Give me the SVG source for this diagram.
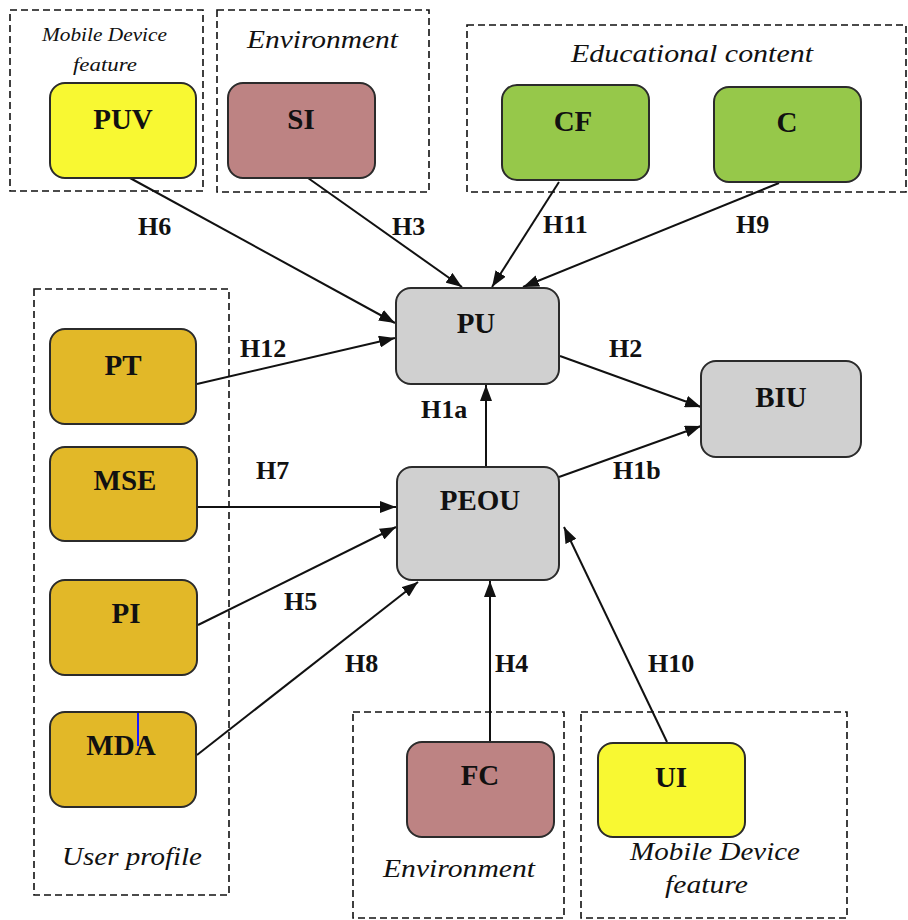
<svg xmlns="http://www.w3.org/2000/svg" width="908" height="920" viewBox="0 0 908 920" font-family="Liberation Serif, Times New Roman, DejaVu Serif, serif">
<style>
.grp{fill:none;stroke:#111;stroke-width:1.6;stroke-dasharray:7,4}
.node{stroke:#2b2b2b;stroke-width:2}
.yel{fill:#f8f832}.brn{fill:#bd8383}.grn{fill:#96c84a}.gld{fill:#e2b828}.gry{fill:#d0d0d0}
.nl{font-weight:bold;font-size:29px;fill:#111;text-anchor:middle}
.hl{font-weight:bold;font-size:26px;fill:#111}
.gl{font-style:italic;font-size:26px;fill:#111}
.gs{font-style:italic;font-size:18px;fill:#111}
.cn{stroke:#111;stroke-width:2;fill:none;marker-end:url(#ah)}
</style>
<defs>
<marker id="ah" markerUnits="userSpaceOnUse" markerWidth="16" markerHeight="12" refX="16" refY="6" orient="auto">
<path d="M0,0 L16,6 L0,12 z" fill="#111"/>
</marker>
</defs>
<rect width="908" height="920" fill="#fff"/>

<g id="group-mobile-top">
<rect class="grp" x="10" y="10" width="193" height="181"/>
<text class="gs" x="42" y="41" textLength="125" lengthAdjust="spacingAndGlyphs">Mobile Device</text>
<text class="gs" x="73" y="71" textLength="64" lengthAdjust="spacingAndGlyphs">feature</text>
</g>
<g id="group-environment-top">
<rect class="grp" x="217" y="10" width="212" height="182"/>
<text class="gl" x="247" y="48" textLength="151" lengthAdjust="spacingAndGlyphs">Environment</text>
</g>
<g id="group-educational">
<rect class="grp" x="467" y="25" width="439" height="167"/>
<text class="gl" x="571" y="62" textLength="242" lengthAdjust="spacingAndGlyphs">Educational content</text>
</g>
<g id="group-user-profile">
<rect class="grp" x="34" y="289" width="195" height="606"/>
<text class="gl" x="62" y="865" textLength="140" lengthAdjust="spacingAndGlyphs">User profile</text>
</g>
<g id="group-environment-bottom">
<rect class="grp" x="353" y="712" width="211" height="206"/>
<text class="gl" x="383" y="877" textLength="152" lengthAdjust="spacingAndGlyphs">Environment</text>
</g>
<g id="group-mobile-bottom">
<rect class="grp" x="581" y="712" width="266" height="206"/>
<text class="gl" x="630" y="860" textLength="170" lengthAdjust="spacingAndGlyphs">Mobile Device</text>
<text class="gl" x="665" y="893" textLength="83" lengthAdjust="spacingAndGlyphs">feature</text>
</g>

<g id="connectors">
<line class="cn" x1="130" y1="178" x2="395" y2="323"/>
<line class="cn" x1="308" y1="178" x2="462" y2="287"/>
<line class="cn" x1="559" y1="182" x2="492" y2="287"/>
<line class="cn" x1="779" y1="183" x2="523" y2="287"/>
<line class="cn" x1="197" y1="384" x2="395" y2="338"/>
<line class="cn" x1="198" y1="507" x2="396" y2="507"/>
<line class="cn" x1="198" y1="625" x2="396" y2="527"/>
<line class="cn" x1="197" y1="755" x2="418" y2="582"/>
<line class="cn" x1="490" y1="742" x2="490" y2="581"/>
<line class="cn" x1="667" y1="742" x2="564" y2="527"/>
<line class="cn" x1="486" y1="467" x2="486" y2="385"/>
<line class="cn" x1="560" y1="356" x2="701" y2="407"/>
<line class="cn" x1="559" y1="477" x2="701" y2="426"/>
<text class="hl" x="138" y="235">H6</text>
<text class="hl" x="392" y="235">H3</text>
<text class="hl" x="543" y="233">H11</text>
<text class="hl" x="736" y="233">H9</text>
<text class="hl" x="240" y="357">H12</text>
<text class="hl" x="609" y="357">H2</text>
<text class="hl" x="421" y="418">H1a</text>
<text class="hl" x="256" y="479">H7</text>
<text class="hl" x="613" y="479">H1b</text>
<text class="hl" x="284" y="610">H5</text>
<text class="hl" x="345" y="672">H8</text>
<text class="hl" x="495" y="672">H4</text>
<text class="hl" x="648" y="672">H10</text>
</g>

<g id="node-PUV"><rect class="node yel" x="50" y="83" width="146" height="95" rx="15"/><text class="nl" x="123" y="129">PUV</text></g>
<g id="node-SI"><rect class="node brn" x="228" y="83" width="147" height="95" rx="15"/><text class="nl" x="301" y="129">SI</text></g>
<g id="node-CF"><rect class="node grn" x="502" y="85" width="147" height="95" rx="15"/><text class="nl" x="573" y="131">CF</text></g>
<g id="node-C"><rect class="node grn" x="714" y="87" width="147" height="95" rx="15"/><text class="nl" x="787" y="132">C</text></g>
<g id="node-PT"><rect class="node gld" x="50" y="329" width="146" height="95" rx="15"/><text class="nl" x="123" y="375">PT</text></g>
<g id="node-MSE"><rect class="node gld" x="50" y="447" width="147" height="94" rx="15"/><text class="nl" x="125" y="490">MSE</text></g>
<g id="node-PI"><rect class="node gld" x="50" y="580" width="147" height="95" rx="15"/><text class="nl" x="126" y="623">PI</text></g>
<g id="node-MDA"><rect class="node gld" x="50" y="712" width="146" height="95" rx="15"/><text class="nl" x="121" y="755">MDA</text><line x1="138" y1="713" x2="138" y2="746" stroke="#1a1aff" stroke-width="2"/></g>
<g id="node-PU"><rect class="node gry" x="396" y="288" width="163" height="96" rx="15"/><text class="nl" x="476" y="333">PU</text></g>
<g id="node-PEOU"><rect class="node gry" x="397" y="467" width="162" height="113" rx="15"/><text class="nl" x="480" y="510">PEOU</text></g>
<g id="node-BIU"><rect class="node gry" x="701" y="361" width="160" height="96" rx="15"/><text class="nl" x="781" y="407">BIU</text></g>
<g id="node-FC"><rect class="node brn" x="407" y="742" width="147" height="95" rx="15"/><text class="nl" x="480" y="785">FC</text></g>
<g id="node-UI"><rect class="node yel" x="598" y="743" width="147" height="94" rx="15"/><text class="nl" x="671" y="787">UI</text></g>
</svg>
